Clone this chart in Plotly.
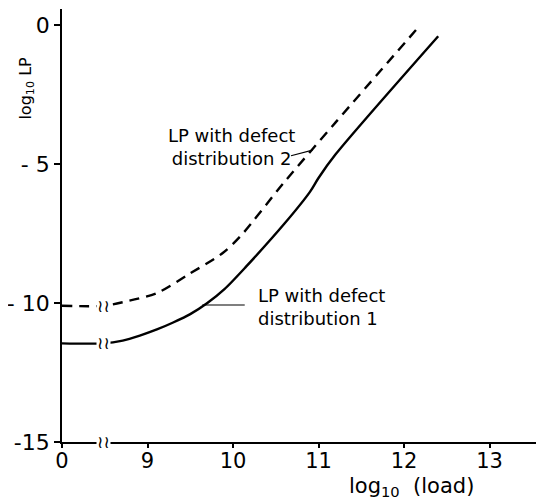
import plotly.graph_objects as go

# ---- data ----
x_d1 = [8.0, 8.48, 8.71, 8.91, 9.11, 9.3, 9.5, 9.7, 9.9, 10.15, 10.6, 10.9, 11.0, 11.2, 12.4]
lp_d1 = [-11.45, -11.45, -11.35, -11.17, -10.95, -10.7, -10.4, -10.0, -9.5, -8.7, -7.15, -6.0, -5.5, -4.65, -0.4]
x_d2 = [8.0, 8.48, 8.71, 9.11, 9.49, 9.88, 10.1, 10.6, 11.2, 12.19]
lp_d2 = [-10.1, -10.1, -9.97, -9.64, -8.95, -8.2, -7.55, -5.65, -3.5, 0.0]

x_tick_vals = [8, 9, 10, 11, 12, 13]
x_tick_text = ["0", "9", "10", "11", "12", "13"]
y_tick_vals = [0, -5, -10, -15]
y_tick_text = ["0", "- 5", "- 10", "-15"]

x_break = 8.48
font = "DejaVu Sans"

fig = go.Figure()
fig.add_trace(go.Scatter(x=x_d2, y=lp_d2, mode="lines",
                         line=dict(color="black", width=2.4, dash="10px,7px",
                                   shape="spline", smoothing=0.8),
                         showlegend=False, hoverinfo="skip"))
fig.add_trace(go.Scatter(x=x_d1, y=lp_d1, mode="lines",
                         line=dict(color="black", width=2.4,
                                   shape="spline", smoothing=0.8),
                         showlegend=False, hoverinfo="skip"))

annotations = []
# axis break marks
for yb in [lp_d1[1], lp_d2[1], -15]:
    annotations.append(dict(x=x_break, y=yb, xref="x", yref="y", text="≀≀",
                            showarrow=False, font=dict(family=font, size=17, color="black"),
                            bgcolor="white", borderpad=0))

# labels
annotations.append(dict(x=10.27, y=-10.15, xref="x", yref="y",
                        text="LP with defect<br>distribution 1", showarrow=False,
                        xanchor="left", yanchor="middle", align="left",
                        font=dict(family=font, size=18, color="black")))
annotations.append(dict(x=9.98, y=-4.37, xref="x", yref="y",
                        text="LP with defect<br>distribution 2", showarrow=False,
                        xanchor="center", yanchor="middle", align="center",
                        font=dict(family=font, size=18, color="black")))
# leader lines
annotations.append(dict(x=9.64, y=-10.07, xref="x", yref="y", text="",
                        showarrow=True, arrowhead=0, arrowwidth=1.2, arrowcolor="black",
                        ax=44, ay=0))
annotations.append(dict(x=10.93, y=-4.5, xref="x", yref="y", text="",
                        showarrow=True, arrowhead=0, arrowwidth=1.2, arrowcolor="black",
                        ax=-23, ay=6))
# axis titles
annotations.append(dict(x=-0.074, y=0.817, xref="paper", yref="paper",
                        xanchor="center", yanchor="middle",
                        text="log<sub>10</sub> LP", textangle=-90, showarrow=False,
                        font=dict(family=font, size=16, color="black")))
annotations.append(dict(x=0.725, y=-0.104, xref="paper", yref="paper",
                        xanchor="center", yanchor="middle",
                        text="log<sub>10</sub>\u00a0\u00a0(load)", showarrow=False,
                        font=dict(family=font, size=21, color="black")))

# page body has an 8px margin; figure is sized so the plot lands where the reference has it
fig.update_layout(
    width=536, height=494, autosize=False,
    margin=dict(l=54, r=0, t=1, b=60),
    plot_bgcolor="white", paper_bgcolor="white",
    annotations=annotations,
    xaxis=dict(range=[8, 8 + 482 / 85.5], tickvals=x_tick_vals, ticktext=x_tick_text,
               showline=True, linecolor="black", linewidth=1.8, showgrid=False,
               zeroline=False, ticks="outside", ticklen=4, tickwidth=1.5, tickcolor="black",
               ticklabelstandoff=-5,
               tickfont=dict(family=font, size=21, color="black")),
    yaxis=dict(range=[-15, 0.58], tickvals=y_tick_vals, ticktext=y_tick_text,
               showline=True, linecolor="black", linewidth=1.8, showgrid=False,
               zeroline=False, ticks="outside", ticklen=6, tickwidth=1.5, tickcolor="black",
               tickfont=dict(family=font, size=22, color="black")),
)

fig.write_html("out.html")
